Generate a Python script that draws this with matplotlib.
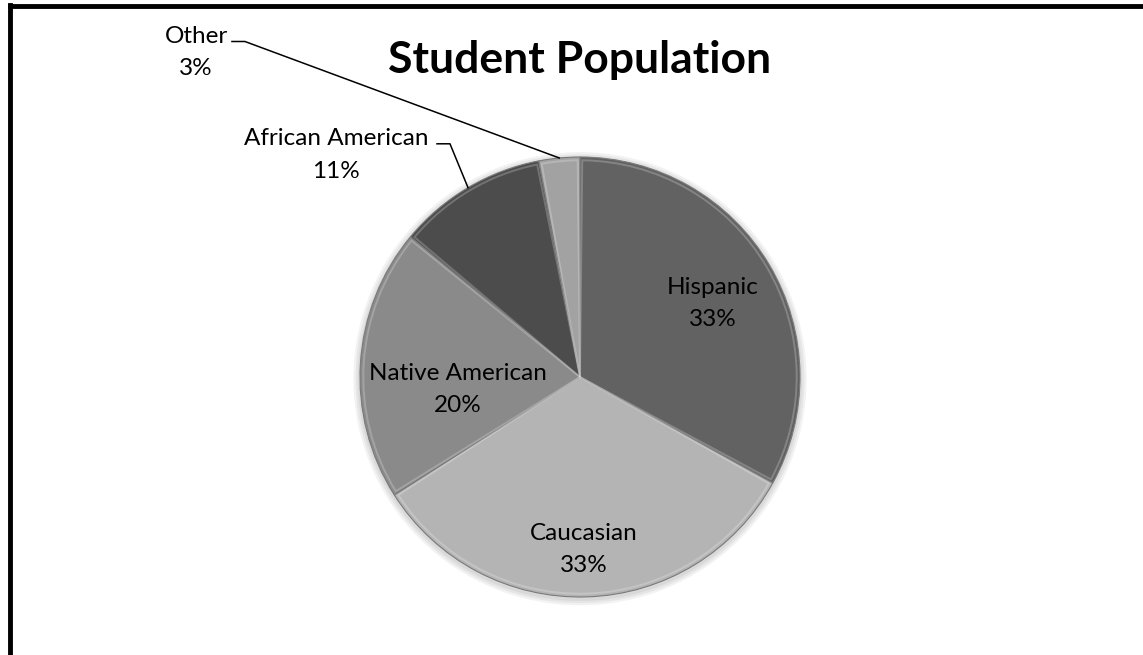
import numpy as np
import matplotlib
matplotlib.use("Agg")
import matplotlib.pyplot as plt
import matplotlib.patches as mp
from matplotlib.lines import Line2D

categories = ["Hispanic", "Caucasian", "Native American", "African American", "Other"]
values = [33, 33, 20, 11, 3]
pct_labels = ["33%", "33%", "20%", "11%", "3%"]
colors = ["#626262", "#b4b4b4", "#8a8a8a", "#4c4c4c", "#a2a2a2"]
title = "Student Population"

FONT = ["Lato", "DejaVu Sans"]
W, H = 1143, 655
fig = plt.figure(figsize=(W / 100, H / 100), dpi=100)

# frame lines (left and top)
fig.add_artist(Line2D([10 / W, 10 / W], [0, 1 - 5 / H], color="black", lw=3.5,
                      transform=fig.transFigure, solid_capstyle="projecting"))
fig.add_artist(Line2D([10 / W, 1], [1 - 6 / H, 1 - 6 / H], color="black", lw=3.5,
                      transform=fig.transFigure, solid_capstyle="projecting"))

cx, cy, r = 580, 377, 220
ax = fig.add_axes([(cx - r) / W, (H - cy - r) / H, 2 * r / W, 2 * r / H])

# soft shadow
for i in range(3):
    sh = plt.Circle((0.0, -0.008), 1.0 + 0.01 * (i + 1), color="black", alpha=0.05,
                    zorder=0, lw=0, clip_on=False)
    ax.add_patch(sh)

wedges, _ = ax.pie(values, colors=colors, startangle=90, counterclock=False, radius=1.0,
                   wedgeprops=dict(edgecolor="#7a7a7a", linewidth=0.8))
for w in wedges:
    w.set_zorder(2)
    w.set_clip_on(False)

ax.set_xlim(-1, 1)
ax.set_ylim(-1, 1)
ax.set_aspect("equal")
ax.axis("off")

# bevel highlight: thin lighter inner outline
for w in wedges:
    inner = mp.Wedge((0, 0), 0.985, w.theta1 + 0.6, w.theta2 - 0.6,
                     facecolor="none", edgecolor="white", lw=1.4, alpha=0.22, zorder=3,
                     clip_on=False)
    ax.add_patch(inner)

# labels (positions relative to pie center, in radius units)
label_pos = {
    "Hispanic": (0.605, 0.332),
    "Caucasian": (0.018, -0.786),
    "Native American": (-0.555, -0.055),
    "African American": (-1.109, 1.009),
    "Other": (-1.745, 1.473),
}
for cat, pct in zip(categories, pct_labels):
    x, y = label_pos[cat]
    ax.text(x, y, f"{cat}\n{pct}", ha="center", va="center", fontsize=17.5,
            family=FONT, color="black", linespacing=1.65, clip_on=False, zorder=5)

# leader lines for the outside labels
elbows = {
    "African American": [(-0.650, 1.060), (-0.591, 1.060)],
    "Other": [(-1.582, 1.525), (-1.523, 1.525)],
}
for w, cat in zip(wedges, categories):
    if cat in elbows:
        mid = np.deg2rad((w.theta1 + w.theta2) / 2)
        ex, ey = np.cos(mid) * 1.0, np.sin(mid) * 1.0
        pts = elbows[cat] + [(ex, ey)]
        ax.plot([p[0] for p in pts], [p[1] for p in pts], color="black", lw=1.1,
                clip_on=False, zorder=4)

fig.text(cx / W, 1 - 73 / H, title, ha="center", va="baseline", fontsize=32,
         fontweight="bold", family=FONT)

fig.savefig("out.png", dpi=100, facecolor="white")
